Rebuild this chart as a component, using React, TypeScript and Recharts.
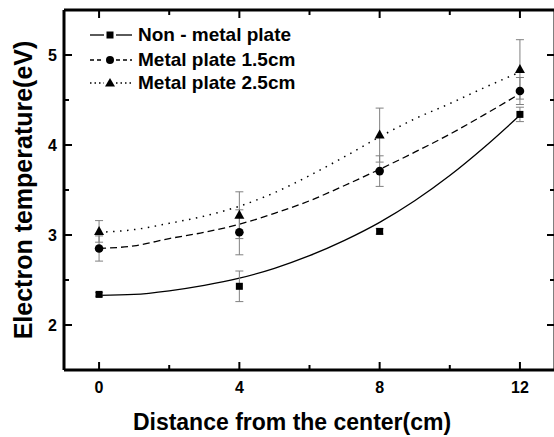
import React from 'react';
import { ComposedChart, Line, Scatter, ErrorBar, XAxis, YAxis, ReferenceLine, Customized } from 'recharts';

const FONT = "'Liberation Sans', Arial, sans-serif";

// fitted curves, every 1 cm
const fitX = [0, 1, 2, 3, 4, 5, 6, 7, 8, 9, 10, 11, 12];
const fitNonMetal = [2.33, 2.34, 2.38, 2.44, 2.52, 2.63, 2.77, 2.94, 3.14, 3.38, 3.66, 3.98, 4.33];
const fitMetal15 = [2.85, 2.88, 2.96, 3.03, 3.12, 3.24, 3.38, 3.55, 3.73, 3.92, 4.12, 4.34, 4.57];
const fitMetal25 = [3.03, 3.06, 3.13, 3.21, 3.32, 3.47, 3.66, 3.87, 4.09, 4.29, 4.46, 4.64, 4.81];

// measured points
const distance = [0, 4, 8, 12];
const nonMetal = [2.34, 2.43, 3.04, 4.34];
const nonMetalErr = [0.02, 0.17, 0.03, 0.08];
const metal15 = [2.85, 3.03, 3.71, 4.6];
const metal15Err = [0.14, 0.25, 0.17, 0.15];
const metal25 = [3.04, 3.22, 4.11, 4.84];
const metal25Err = [0.12, 0.26, 0.3, 0.33];

const xTicks = [0, 2, 4, 6, 8, 10, 12];
const xLabels = [0, 4, 8, 12];
const yTicks = [2, 2.5, 3, 3.5, 4, 4.5, 5];
const yLabels = [2, 3, 4, 5];

const X_MIN = -1, X_MAX = 13, Y_MIN = 1.5, Y_MAX = 5.5;

const fit = (ys: number[]) => fitX.map((x, i) => ({ x, y: ys[i] }));
const pts = (ys: number[], es: number[]) => distance.map((x, i) => ({ x, y: ys[i], err: es[i] }));

// inward tick lengths, px converted to data units (35 px per cm, 90 px per eV)
const xTickLen = (t: number) => (xLabels.includes(t) ? 8 : 5) / 90;
const yTickLen = (t: number) => (yLabels.includes(t) ? 8 : 5) / 35;

const bottomLabel = (p: any) =>
  xLabels.includes(p.payload.value) ? (
    <text x={p.x} y={p.y + 23} textAnchor="middle" fontSize={16} fontWeight="bold" fontFamily={FONT} fill="#000">
      {p.payload.value}
    </text>
  ) : <g />;

const leftLabel = (p: any) =>
  yLabels.includes(p.payload.value) ? (
    <text x={p.x - 7} y={p.y + 6} textAnchor="end" fontSize={16} fontWeight="bold" fontFamily={FONT} fill="#000">
      {p.payload.value}
    </text>
  ) : <g />;

const SquareDot = (p: any) => <rect x={p.cx - 3.5} y={p.cy - 3.5} width={7} height={7} fill="#000" />;
const CircleDot = (p: any) => <circle cx={p.cx} cy={p.cy} r={4.3} fill="#000" />;
const TriDot = (p: any) => (
  <polygon points={`${p.cx},${p.cy - 5.5} ${p.cx - 5},${p.cy + 3.5} ${p.cx + 5},${p.cy + 3.5}`} fill="#000" />
);

const Overlay = () => (
  <g fontFamily={FONT} fontWeight="bold" fill="#000">
    <text x={292} y={430} textAnchor="middle" fontSize={23}>Distance from the center(cm)</text>
    <text x={32} y={190} textAnchor="middle" fontSize={25} transform="rotate(-90, 32, 190)">
      Electron temperature(eV)
    </text>
    {/* legend */}
    <line x1={90} x2={104} y1={35} y2={35} stroke="#000" strokeWidth={1.3} />
    <rect x={106.5} y={31.5} width={7} height={7} fill="#000" />
    <line x1={116} x2={132} y1={35} y2={35} stroke="#000" strokeWidth={1.3} />
    <text x={138} y={41} fontSize={19}>Non - metal plate</text>
    <line x1={90} x2={104} y1={60} y2={60} stroke="#000" strokeWidth={1.3} strokeDasharray="4 3" />
    <circle cx={110} cy={60} r={4} fill="#000" />
    <line x1={116} x2={132} y1={60} y2={60} stroke="#000" strokeWidth={1.3} strokeDasharray="4 3" />
    <text x={138} y={66} fontSize={19}>Metal plate 1.5cm</text>
    <line x1={90} x2={104} y1={83} y2={83} stroke="#000" strokeWidth={1.3} strokeDasharray="1.5 3" />
    <polygon points="110,78 105,86.5 115,86.5" fill="#000" />
    <line x1={116} x2={132} y1={83} y2={83} stroke="#000" strokeWidth={1.3} strokeDasharray="1.5 3" />
    <text x={138} y={89} fontSize={19}>Metal plate 2.5cm</text>
  </g>
);

export default function App() {
  const axisLine = { stroke: '#000', strokeWidth: 3 };
  const tk = { xAxisId: 'b', yAxisId: 'l', ifOverflow: 'visible' as const, stroke: '#000', strokeWidth: 2 };
  return (
    <div style={{ width: 554, height: 437, overflow: 'hidden', background: '#fff' }}>
      <style>{'body{margin:0}'}</style>
      <ComposedChart width={556} height={437} margin={{ top: 9, right: 0, bottom: 0, left: 0 }}>
        <XAxis xAxisId="b" type="number" dataKey="x" domain={[X_MIN, X_MAX]} ticks={xTicks} allowDataOverflow
          height={67} axisLine={axisLine} tickLine={false} tickSize={0} tickMargin={0} tick={bottomLabel} interval={0} />
        <XAxis xAxisId="t" orientation="top" type="number" dataKey="x" domain={[X_MIN, X_MAX]} ticks={xTicks} allowDataOverflow
          height={1} axisLine={axisLine} tickLine={false} tick={false} />
        <YAxis yAxisId="l" type="number" dataKey="y" domain={[Y_MIN, Y_MAX]} ticks={yTicks} allowDataOverflow
          width={64} axisLine={axisLine} tickLine={false} tickSize={0} tickMargin={0} tick={leftLabel} interval={0} />
        <YAxis yAxisId="r" orientation="right" type="number" dataKey="y" domain={[Y_MIN, Y_MAX]} ticks={yTicks} allowDataOverflow
          width={1} axisLine={axisLine} tickLine={false} tick={false} />

        {/* inward tick marks on all four sides of the frame */}
        {xTicks.map((t) => (
          <ReferenceLine key={`xb${t}`} {...tk} segment={[{ x: t, y: Y_MIN }, { x: t, y: Y_MIN + xTickLen(t) }]} />
        ))}
        {xTicks.map((t) => (
          <ReferenceLine key={`xt${t}`} {...tk} segment={[{ x: t, y: Y_MAX }, { x: t, y: Y_MAX - xTickLen(t) }]} />
        ))}
        {yTicks.map((t) => (
          <ReferenceLine key={`yl${t}`} {...tk} segment={[{ x: X_MIN, y: t }, { x: X_MIN + yTickLen(t), y: t }]} />
        ))}
        {yTicks.map((t) => (
          <ReferenceLine key={`yr${t}`} {...tk} segment={[{ x: X_MAX, y: t }, { x: X_MAX - yTickLen(t), y: t }]} />
        ))}

        <Line xAxisId="b" yAxisId="l" data={fit(fitNonMetal)} dataKey="y" type="monotone" stroke="#000"
          strokeWidth={1.3} dot={false} isAnimationActive={false} />
        <Line xAxisId="b" yAxisId="l" data={fit(fitMetal15)} dataKey="y" type="monotone" stroke="#000"
          strokeWidth={1.3} strokeDasharray="7 4" dot={false} isAnimationActive={false} />
        <Line xAxisId="b" yAxisId="l" data={fit(fitMetal25)} dataKey="y" type="monotone" stroke="#000"
          strokeWidth={1.5} strokeDasharray="1.5 5.5" dot={false} isAnimationActive={false} />

        <Scatter xAxisId="b" yAxisId="l" data={pts(nonMetal, nonMetalErr)} dataKey="y" shape={<SquareDot />} isAnimationActive={false}>
          <ErrorBar dataKey="err" direction="y" width={4} stroke="#808080" strokeWidth={1} />
        </Scatter>
        <Scatter xAxisId="b" yAxisId="l" data={pts(metal15, metal15Err)} dataKey="y" shape={<CircleDot />} isAnimationActive={false}>
          <ErrorBar dataKey="err" direction="y" width={4} stroke="#808080" strokeWidth={1} />
        </Scatter>
        <Scatter xAxisId="b" yAxisId="l" data={pts(metal25, metal25Err)} dataKey="y" shape={<TriDot />} isAnimationActive={false}>
          <ErrorBar dataKey="err" direction="y" width={4} stroke="#808080" strokeWidth={1} />
        </Scatter>

        <Customized component={Overlay} />
      </ComposedChart>
    </div>
  );
}
